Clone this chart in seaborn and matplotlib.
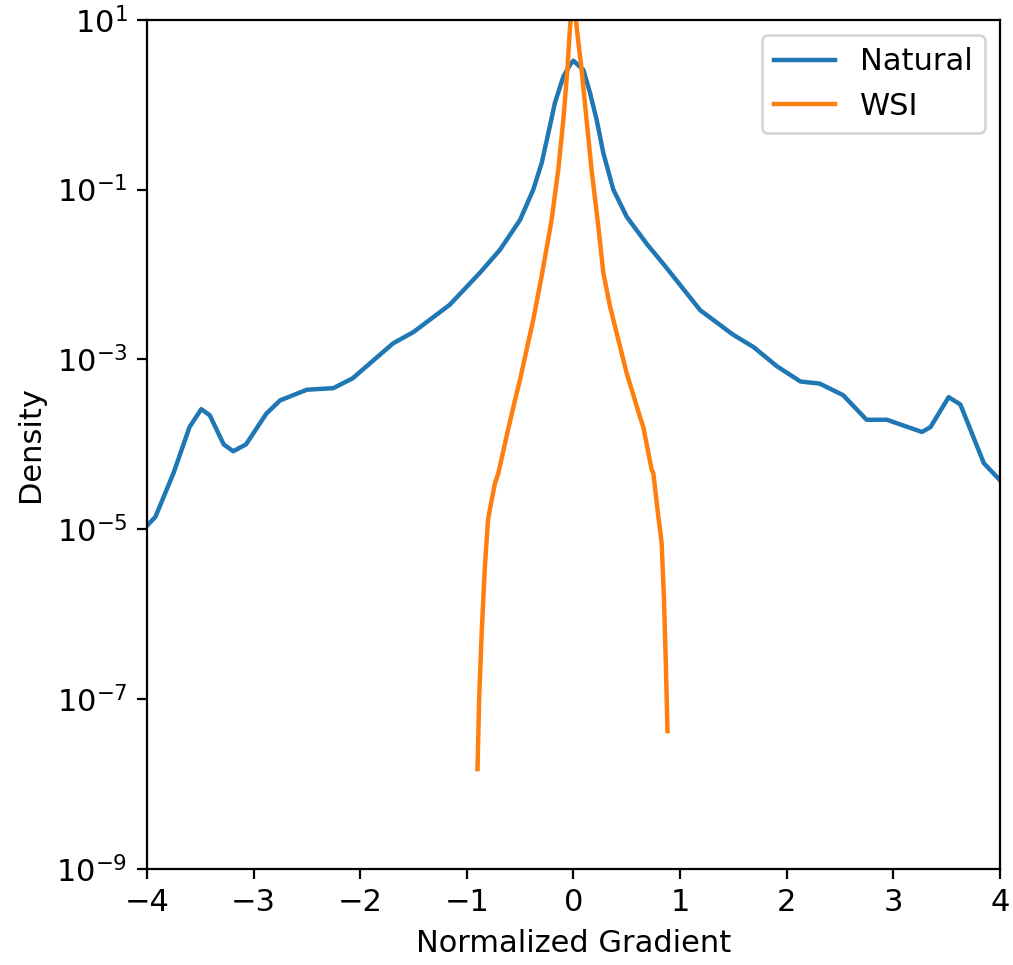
import numpy as np
import pandas as pd
import seaborn as sns
import matplotlib.pyplot as plt

# Density curves (x = normalized gradient, y = density)
natural_x = [-4.0, -3.92, -3.75, -3.60, -3.49, -3.41, -3.28, -3.19, -3.07, -2.88,
             -2.75, -2.50, -2.25, -2.07, -1.69, -1.50, -1.16, -0.876, -0.689, -0.50,
             -0.376, -0.298, -0.235, -0.173, -0.094, -0.031, 0.0, 0.094, 0.156, 0.219,
             0.281, 0.375, 0.50, 0.688, 0.86, 1.19,
             1.50, 1.69, 1.91, 2.13, 2.31, 2.53, 2.75, 2.94, 3.27, 3.35,
             3.52, 3.63, 3.85, 4.0]
natural_density = [1.1e-5, 1.4e-5, 4.6e-5, 1.6e-4, 2.6e-4, 2.2e-4, 1.0e-4, 8.3e-5, 1.0e-4, 2.3e-4,
                   3.3e-4, 4.4e-4, 4.6e-4, 6.0e-4, 1.55e-3, 2.1e-3, 4.4e-3, 1.05e-2, 1.95e-2, 4.4e-2,
                   1.0e-1, 2.04e-1, 4.6e-1, 1.05, 2.14, 2.95, 3.3, 2.57, 1.38, 6.6e-1,
                   2.7e-1, 1.0e-1, 4.8e-2, 2.3e-2, 1.26e-2, 3.8e-3,
                   1.95e-3, 1.4e-3, 8.3e-4, 5.5e-4, 5.2e-4, 3.8e-4, 1.95e-4, 1.95e-4, 1.4e-4, 1.6e-4,
                   3.6e-4, 2.95e-4, 6.0e-5, 3.8e-5]

wsi_x = [-0.899, -0.884, -0.86, -0.83, -0.80, -0.78, -0.735, -0.705, -0.62, -0.548,
         -0.50, -0.376, -0.298, -0.204, -0.142, -0.094, -0.056, -0.031, 0.0, 0.03,
         0.077, 0.124, 0.171, 0.234, 0.281, 0.344, 0.50, 0.578, 0.625, 0.656,
         0.735, 0.75, 0.797, 0.813, 0.828, 0.85, 0.868, 0.883]
wsi_density = [1.5e-8, 9.8e-8, 6.0e-7, 3.6e-6, 1.3e-5, 1.8e-5, 3.5e-5, 4.5e-5, 1.35e-4, 3.3e-4,
               5.8e-4, 2.95e-3, 9.5e-3, 4.4e-2, 1.7e-1, 6.6e-1, 2.6, 8.3, 25.0, 8.3,
               2.6, 6.6e-1, 1.7e-1, 3.7e-2, 1.05e-2, 4.2e-3, 6.9e-4, 3.3e-4, 2.1e-4, 1.6e-4,
               5.0e-5, 4.6e-5, 1.4e-5, 1.0e-5, 6.9e-6, 1.5e-6, 2.4e-7, 4.2e-8]

y_ticks = [1e1, 1e-1, 1e-3, 1e-5, 1e-7, 1e-9]

natural = pd.DataFrame({'x': natural_x, 'density': natural_density})
wsi = pd.DataFrame({'x': wsi_x, 'density': wsi_density})

plt.rcParams['font.size'] = 11

fig = plt.figure(figsize=(5.065, 4.825), dpi=200)
ax = fig.add_axes([0.145, 0.0995, 0.842, 0.880])

sns.lineplot(data=natural, x='x', y='density', color='#1f77b4', label='Natural',
             linewidth=1.6, ax=ax, sort=False)
sns.lineplot(data=wsi, x='x', y='density', color='#ff7f0e', label='WSI',
             linewidth=1.6, ax=ax, sort=False)

ax.set_yscale('log')
ax.set_xlim(-4, 4)
ax.set_ylim(1e-9, 1e1)
ax.set_yticks(y_ticks)
ax.minorticks_off()
ax.set_xlabel('Normalized Gradient')
ax.set_ylabel('Density')
ax.legend(loc='upper right')

plt.savefig('out.png', dpi=200)
plt.close()
